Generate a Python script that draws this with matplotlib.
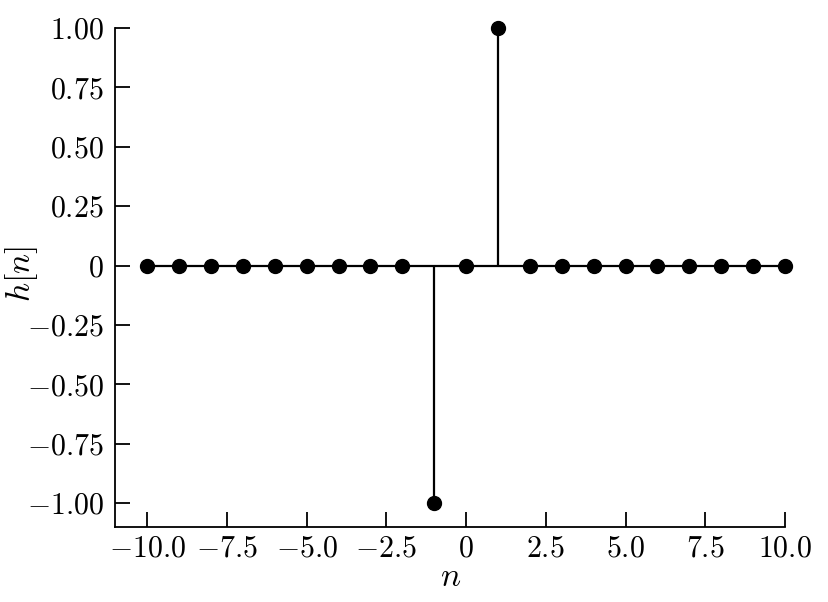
import matplotlib
matplotlib.use("Agg")
import matplotlib.pyplot as plt
from matplotlib.ticker import FuncFormatter

# impulse response samples
n = [-10, -9, -8, -7, -6, -5, -4, -3, -2, -1, 0, 1, 2, 3, 4, 5, 6, 7, 8, 9, 10]
h = [0, 0, 0, 0, 0, 0, 0, 0, 0, -1, 0, 1, 0, 0, 0, 0, 0, 0, 0, 0, 0]
xticks = [-10.0, -7.5, -5.0, -2.5, 0, 2.5, 5.0, 7.5, 10.0]
yticks = [-1.0, -0.75, -0.5, -0.25, 0, 0.25, 0.5, 0.75, 1.0]

plt.rcParams['mathtext.fontset'] = 'cm'
plt.rcParams['font.family'] = 'serif'
plt.rcParams['font.serif'] = ['cmr10']
plt.rcParams['axes.unicode_minus'] = False

fig = plt.figure(figsize=(8.29, 6.02), dpi=100)
ax = fig.add_axes([0.139, 0.1246, 0.808, 0.829])

markerline, stemlines, baseline = ax.stem(n, h, linefmt='k-', markerfmt='ko', basefmt='k-')
markerline.set_markersize(10)
markerline.set_clip_on(False)
stemlines.set_linewidth(1.6)
baseline.set_linewidth(1.6)

ax.set_xlim(-11, 10)
ax.set_ylim(-1.1, 1.0)

ax.spines['top'].set_visible(False)
ax.spines['right'].set_visible(False)
ax.spines['left'].set_linewidth(1.3)
ax.spines['bottom'].set_linewidth(1.3)

ax.set_xticks(xticks)
ax.set_yticks(yticks)


def fmt_x(v, pos):
    if v == 0:
        return r'$0$'
    return r'$%.1f$' % v


def fmt_y(v, pos):
    if v == 0:
        return r'$0$'
    return r'$%.2f$' % v


ax.xaxis.set_major_formatter(FuncFormatter(fmt_x))
ax.yaxis.set_major_formatter(FuncFormatter(fmt_y))
ax.tick_params(direction='in', length=11, width=1.3, labelsize=21.5, pad=8)
ax.tick_params(axis='x', pad=6)

ax.set_xlabel(r'$n$', fontsize=24)
ax.set_ylabel(r'$h[n]$', fontsize=24)
ax.xaxis.set_label_coords(0.5, -0.102)
ax.yaxis.set_label_coords(-0.140, 0.507)
ax.xaxis.label.set_va('center')
ax.yaxis.label.set_va('center')

fig.savefig('out.png', dpi=100)
